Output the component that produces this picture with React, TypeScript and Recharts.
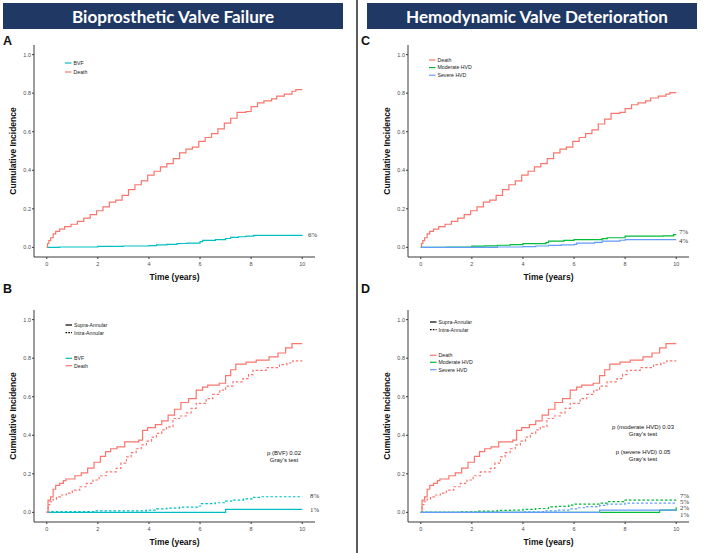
import React from 'react';
import { LineChart, Line, XAxis, YAxis } from 'recharts';

type Pt = [number, number];

const FONT = '"Liberation Sans", Arial, sans-serif';
const RED = '#F8766D';
const TEAL = '#00BFC4';
const GREEN = '#00BA38';
const BLUE = '#619CFF';
const NAVY = '#1F3864';

const xTicks = [0, 2, 4, 6, 8, 10];
const yTicks = [0, 0.2, 0.4, 0.6, 0.8, 1.0];

// Panel A - bioprosthetic valve failure, all patients
const deathA: Pt[] = [
  [0, 0], [0.03, 0.02], [0.08, 0.035], [0.15, 0.05], [0.25, 0.07], [0.35, 0.083], [0.5, 0.095],
  [0.7, 0.108], [0.95, 0.12], [1.2, 0.135], [1.45, 0.152], [1.7, 0.17], [1.95, 0.19], [2.2, 0.21],
  [2.45, 0.235], [2.7, 0.245], [2.95, 0.27], [3.2, 0.3], [3.45, 0.325], [3.7, 0.345], [3.95, 0.375],
  [4.2, 0.395], [4.45, 0.418], [4.7, 0.435], [4.95, 0.46], [5.2, 0.49], [5.45, 0.51], [5.7, 0.52],
  [5.95, 0.55], [6.2, 0.57], [6.45, 0.59], [6.7, 0.615], [6.95, 0.645], [7.2, 0.67], [7.45, 0.7],
  [7.8, 0.705], [8.0, 0.73], [8.25, 0.75], [8.5, 0.76], [8.8, 0.77], [9.0, 0.785], [9.3, 0.795],
  [9.6, 0.81], [9.75, 0.818], [10, 0.818],
];
const bvfA: Pt[] = [
  [0, 0], [0.5, 0.002], [2, 0.005], [3, 0.007], [4, 0.009], [4.3, 0.013], [4.7, 0.016], [5.1, 0.02],
  [5.5, 0.022], [6, 0.03], [6.1, 0.036], [6.6, 0.04], [7, 0.046], [7.2, 0.052], [7.5, 0.055],
  [7.8, 0.058], [8.1, 0.062], [10, 0.063],
];

// Panel C - hemodynamic valve deterioration, all patients
const deathC: Pt[] = [
  [0, 0], [0.03, 0.02], [0.08, 0.035], [0.15, 0.05], [0.25, 0.07], [0.35, 0.083], [0.5, 0.095],
  [0.7, 0.108], [0.95, 0.12], [1.2, 0.135], [1.45, 0.152], [1.7, 0.17], [1.95, 0.19], [2.2, 0.21],
  [2.45, 0.235], [2.7, 0.245], [2.95, 0.27], [3.2, 0.3], [3.45, 0.325], [3.7, 0.345], [3.95, 0.375],
  [4.2, 0.395], [4.45, 0.418], [4.7, 0.435], [4.95, 0.46], [5.2, 0.49], [5.45, 0.51], [5.7, 0.52],
  [5.95, 0.55], [6.2, 0.57], [6.45, 0.59], [6.7, 0.61], [6.95, 0.64], [7.2, 0.665], [7.45, 0.695],
  [7.8, 0.7], [8.0, 0.72], [8.25, 0.74], [8.5, 0.75], [8.8, 0.76], [9.0, 0.775], [9.3, 0.785],
  [9.6, 0.795], [9.75, 0.803], [10, 0.803],
];
const moderateC: Pt[] = [
  [0, 0], [1, 0.002], [2, 0.006], [2.5, 0.008], [3, 0.011], [3.5, 0.014], [4, 0.019], [4.9, 0.025],
  [5, 0.032], [5.6, 0.036], [6, 0.04], [7.1, 0.045], [7.3, 0.05], [8, 0.058], [9.5, 0.06],
  [9.9, 0.066], [10, 0.066],
];
const severeC: Pt[] = [
  [0, 0], [3, 0.002], [4, 0.004], [4.5, 0.007], [5, 0.01], [5.5, 0.013], [6, 0.016], [6.1, 0.022],
  [6.8, 0.026], [7.1, 0.032], [7.8, 0.037], [8, 0.04], [10, 0.04],
];

// Panels B and D - supra-annular vs intra-annular
const deathSupra: Pt[] = [
  [0, 0], [0.05, 0.064], [0.15, 0.08], [0.25, 0.12], [0.35, 0.14], [0.5, 0.15], [0.65, 0.165],
  [0.75, 0.173], [1.1, 0.19], [1.35, 0.205], [1.6, 0.23], [1.85, 0.26], [2.1, 0.29], [2.3, 0.315],
  [2.5, 0.33], [2.75, 0.34], [3.05, 0.366], [3.6, 0.375], [3.75, 0.425], [3.95, 0.44], [4.25, 0.455],
  [4.5, 0.475], [4.75, 0.505], [5.0, 0.535], [5.25, 0.57], [5.55, 0.59], [5.85, 0.634], [6.1, 0.65],
  [6.3, 0.66], [6.75, 0.67], [7.0, 0.71], [7.2, 0.74], [7.4, 0.769], [7.8, 0.78], [8.2, 0.79],
  [8.7, 0.807], [9.05, 0.827], [9.35, 0.853], [9.6, 0.876], [10, 0.876],
];
const deathIntra: Pt[] = [
  [0, 0], [0.05, 0.04], [0.12, 0.055], [0.25, 0.068], [0.38, 0.08], [0.55, 0.09], [0.77, 0.1],
  [1.0, 0.115], [1.29, 0.133], [1.55, 0.15], [1.81, 0.168], [2.05, 0.19], [2.33, 0.21], [2.72, 0.228],
  [2.9, 0.255], [3.12, 0.288], [3.3, 0.31], [3.5, 0.33], [3.7, 0.35], [3.9, 0.37], [4.1, 0.39],
  [4.29, 0.41], [4.5, 0.428], [4.68, 0.444], [4.94, 0.487], [5.2, 0.5], [5.46, 0.516], [5.65, 0.54],
  [5.85, 0.565], [6.24, 0.59], [6.5, 0.612], [6.77, 0.634], [7.0, 0.655], [7.29, 0.677],
  [7.68, 0.694], [7.9, 0.715], [8.07, 0.737], [8.59, 0.751], [9.11, 0.767], [9.4, 0.775],
  [9.63, 0.786], [10, 0.786],
];
const bvfSupra: Pt[] = [[0, 0], [7, 0.015], [10, 0.015]];
const bvfIntra: Pt[] = [
  [0, 0.004], [1.9, 0.008], [3.9, 0.012], [4.3, 0.018], [4.7, 0.022], [5.2, 0.027], [5.9, 0.033],
  [6.05, 0.045], [6.6, 0.05], [7.0, 0.058], [7.3, 0.064], [7.7, 0.07], [8.1, 0.078], [8.4, 0.081],
  [10, 0.081],
];
const moderateSupra: Pt[] = [[0, 0], [9.35, 0.012], [10, 0.026]];
const moderateIntra: Pt[] = [
  [0, 0], [1.5, 0.003], [2.2, 0.006], [3, 0.01], [3.5, 0.012], [4, 0.016], [4.5, 0.02], [5, 0.028],
  [5.3, 0.031], [5.8, 0.038], [6, 0.043], [7, 0.048], [7.3, 0.056], [7.95, 0.064], [10, 0.064],
];
const severeSupra: Pt[] = [[0, 0], [7, 0.012], [10, 0.012]];
const severeIntra: Pt[] = [
  [0, 0], [4, 0.003], [4.8, 0.008], [5.3, 0.012], [5.8, 0.018], [6.1, 0.024], [6.5, 0.03],
  [7, 0.036], [7.3, 0.043], [8, 0.048], [10, 0.048],
];

interface Series {
  name: string;
  pts: Pt[];
  color: string;
  dashed?: boolean;
}

const panelA: Series[] = [
  { name: 'BVF', pts: bvfA, color: TEAL },
  { name: 'Death', pts: deathA, color: RED },
];
const panelC: Series[] = [
  { name: 'Death', pts: deathC, color: RED },
  { name: 'Moderate HVD', pts: moderateC, color: GREEN },
  { name: 'Severe HVD', pts: severeC, color: BLUE },
];
const panelB: Series[] = [
  { name: 'BVF supra', pts: bvfSupra, color: TEAL },
  { name: 'BVF intra', pts: bvfIntra, color: TEAL, dashed: true },
  { name: 'Death supra', pts: deathSupra, color: RED },
  { name: 'Death intra', pts: deathIntra, color: RED, dashed: true },
];
const panelD: Series[] = [
  { name: 'Death supra', pts: deathSupra, color: RED },
  { name: 'Death intra', pts: deathIntra, color: RED, dashed: true },
  { name: 'Moderate supra', pts: moderateSupra, color: GREEN },
  { name: 'Moderate intra', pts: moderateIntra, color: GREEN, dashed: true },
  { name: 'Severe supra', pts: severeSupra, color: BLUE },
  { name: 'Severe intra', pts: severeIntra, color: BLUE, dashed: true },
];

const toRows = (pts: Pt[]) => pts.map(([t, v]) => ({ t, v }));

const Panel: React.FC<{ left: number; top: number; series: Series[] }> = ({ left, top, series }) => (
  <div style={{ position: 'absolute', left, top }}>
    <LineChart width={323} height={254} margin={{ top: 15, right: 0, bottom: 0, left: 0 }} style={{ fontFamily: FONT }}>
      <XAxis
        type="number"
        dataKey="t"
        domain={[-0.5, 10.5]}
        ticks={xTicks}
        height={27}
        stroke="#3a3a3a"
        tickSize={2}
        tickMargin={3}
        tick={{ fontSize: 5.5, fill: '#4d4d4d', fontFamily: FONT }}
        label={{ value: 'Time (years)', position: 'insideBottom', offset: 4, fontSize: 8.5, fontWeight: 700, fill: '#111', fontFamily: FONT }}
      />
      <YAxis
        type="number"
        domain={[-0.05, 1.05]}
        ticks={yTicks}
        width={42}
        stroke="#3a3a3a"
        tickSize={2}
        tickMargin={1}
        tickFormatter={(v: number) => v.toFixed(1)}
        tick={{ fontSize: 5.5, fill: '#4d4d4d', fontFamily: FONT }}
        label={{ value: 'Cumulative Incidence', angle: -90, position: 'center', fontSize: 8.5, fontWeight: 700, fill: '#111', fontFamily: FONT }}
      />
      {series.map((s) => (
        <Line
          key={s.name}
          data={toRows(s.pts)}
          dataKey="v"
          type="stepAfter"
          stroke={s.color}
          strokeWidth={1.2}
          strokeDasharray={s.dashed ? '2.5 2' : undefined}
          dot={false}
          activeDot={false}
          isAnimationActive={false}
        />
      ))}
    </LineChart>
  </div>
);

interface LegendItem {
  label: string;
  color: string;
  dashed?: boolean;
  y: number;
}

const legendA: LegendItem[] = [
  { label: 'BVF', color: TEAL, y: 63 },
  { label: 'Death', color: RED, y: 72 },
];
const legendC: LegendItem[] = [
  { label: 'Death', color: RED, y: 60 },
  { label: 'Moderate HVD', color: GREEN, y: 67.6 },
  { label: 'Severe HVD', color: BLUE, y: 75.2 },
];
const legendB: LegendItem[] = [
  { label: 'Supra-Annular', color: '#000', y: 325 },
  { label: 'Intra-Annular', color: '#000', dashed: true, y: 332.7 },
  { label: 'BVF', color: TEAL, y: 358.3 },
  { label: 'Death', color: RED, y: 365.7 },
];
const legendD: LegendItem[] = [
  { label: 'Supra-Annular', color: '#000', y: 322 },
  { label: 'Intra-Annular', color: '#000', dashed: true, y: 329.7 },
  { label: 'Death', color: RED, y: 355.3 },
  { label: 'Moderate HVD', color: GREEN, y: 362.3 },
  { label: 'Severe HVD', color: BLUE, y: 369.7 },
];

const Legend: React.FC<{ x: number; items: LegendItem[] }> = ({ x, items }) => (
  <g>
    {items.map((it) => (
      <g key={it.label}>
        <line x1={x} x2={x + 6.5} y1={it.y} y2={it.y} stroke={it.color} strokeWidth={1.2} strokeDasharray={it.dashed ? '1.6 1.2' : undefined} />
        <text x={x + 8.5} y={it.y} dy="0.35em" fontSize={5.2} fill="#222" fontFamily={FONT}>{it.label}</text>
      </g>
    ))}
  </g>
);

const pctLabels: { text: string; x: number; y: number }[] = [
  { text: '6%', x: 308, y: 235 },
  { text: '7%', x: 679, y: 232 },
  { text: '4%', x: 679, y: 241 },
  { text: '8%', x: 310, y: 496 },
  { text: '1%', x: 310, y: 510 },
  { text: '7%', x: 680, y: 496 },
  { text: '5%', x: 680, y: 501.5 },
  { text: '2%', x: 680, y: 507.7 },
  { text: '1%', x: 680, y: 514.3 },
];

const notes: { text: string; x: number; y: number }[] = [
  { text: 'p (BVF) 0.02', x: 284, y: 453 },
  { text: "Gray's test", x: 284, y: 460 },
  { text: 'p (moderate HVD) 0.03', x: 643, y: 427 },
  { text: "Gray's test", x: 643, y: 434 },
  { text: 'p (severe HVD) 0.05', x: 643, y: 452 },
  { text: "Gray's test", x: 643, y: 459 },
];

const panelLetters: { text: string; x: number; y: number }[] = [
  { text: 'A', x: 3, y: 40 },
  { text: 'C', x: 361, y: 40 },
  { text: 'B', x: 3, y: 288 },
  { text: 'D', x: 361, y: 288 },
];

const App: React.FC = () => (
  <div style={{ position: 'fixed', left: 0, top: 0, width: 708, height: 553, background: '#fff', overflow: 'hidden' }}>
    <Panel left={-8} top={30} series={panelA} />
    <Panel left={366} top={30} series={panelC} />
    <Panel left={-8} top={295} series={panelB} />
    <Panel left={366} top={295} series={panelD} />
    <svg width={708} height={553} style={{ position: 'absolute', left: 0, top: 0, pointerEvents: 'none' }}>
      <rect x={3} y={3} width={340} height={26} fill={NAVY} />
      <rect x={367} y={3} width={330} height={26} fill={NAVY} />
      <text x={173} y={23} textAnchor="middle" fill="#fff" fontSize={17} fontWeight={700} fontFamily="Lato, sans-serif" textLength={202} lengthAdjust="spacingAndGlyphs">
        Bioprosthetic Valve Failure
      </text>
      <text x={537} y={23} textAnchor="middle" fill="#fff" fontSize={17} fontWeight={700} fontFamily="Lato, sans-serif" textLength={262} lengthAdjust="spacingAndGlyphs">
        Hemodynamic Valve Deterioration
      </text>
      <line x1={357} x2={357} y1={0} y2={553} stroke="#333" strokeWidth={1.6} />
      {panelLetters.map((l) => (
        <text key={l.text} x={l.x} y={l.y} dy="0.36em" fontSize={12.5} fontWeight={700} fill="#111" fontFamily={FONT}>{l.text}</text>
      ))}
      <Legend x={65} items={legendA} />
      <Legend x={429} items={legendC} />
      <Legend x={65.5} items={legendB} />
      <Legend x={430} items={legendD} />
      {pctLabels.map((p, i) => (
        <text key={i} x={p.x} y={p.y} dy="0.35em" fontSize={6.8} fill="#333" fontFamily='"Liberation Serif", serif'>{p.text}</text>
      ))}
      {notes.map((n, i) => (
        <text key={i} x={n.x} y={n.y} dy="0.35em" textAnchor="middle" fontSize={6} fill="#111" fontFamily={FONT}>{n.text}</text>
      ))}
    </svg>
  </div>
);

export default App;
